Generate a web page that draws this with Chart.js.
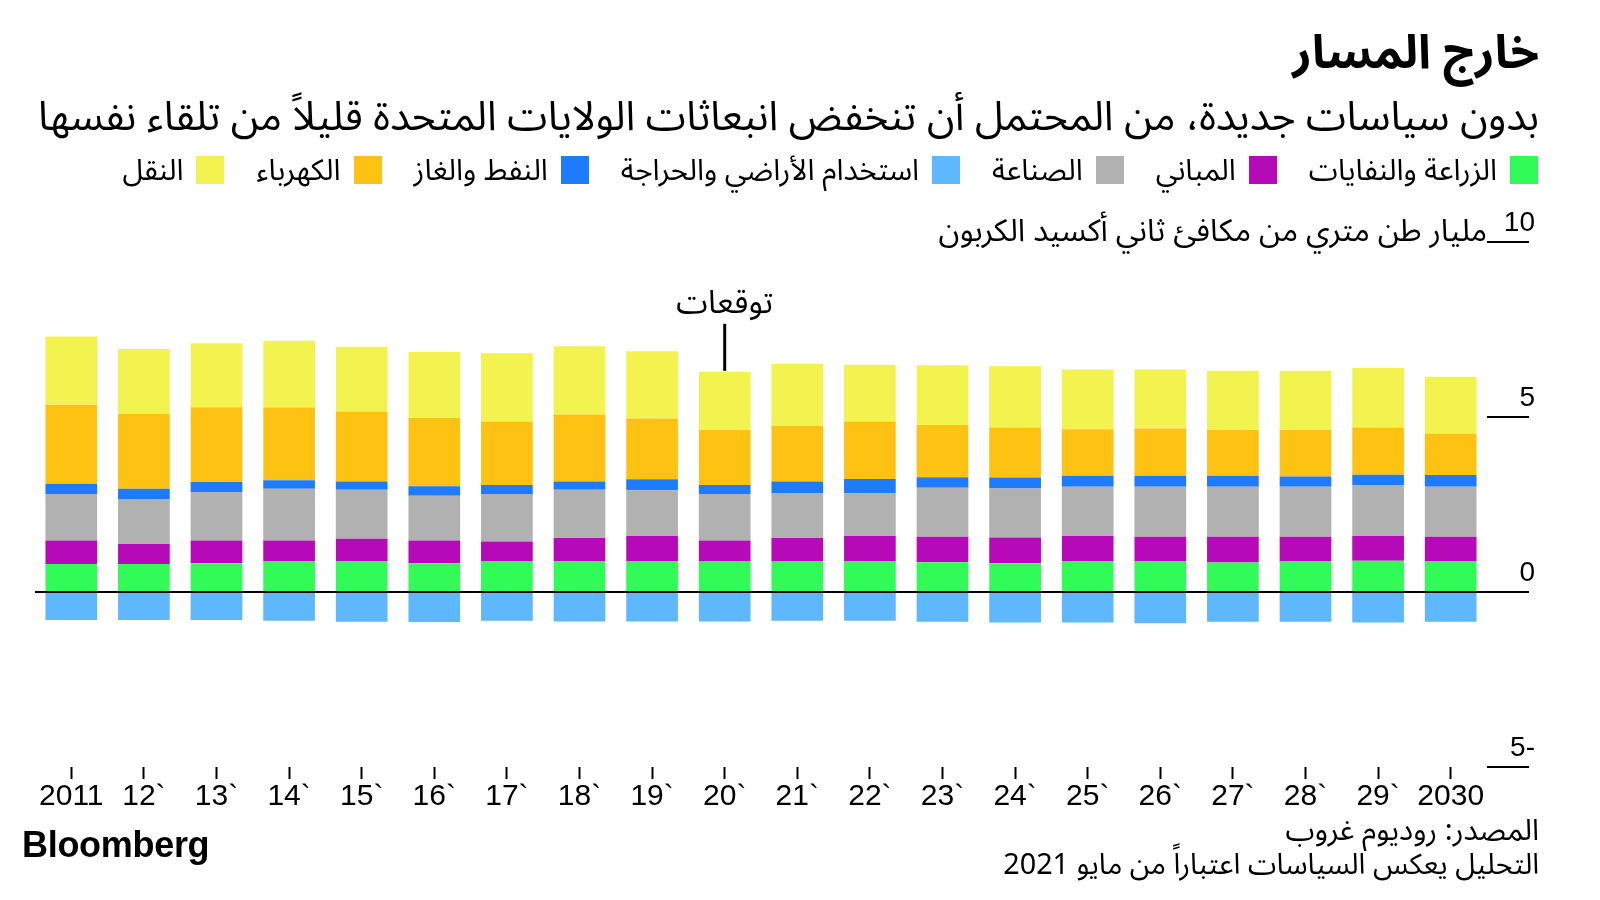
<!DOCTYPE html>
<html lang="ar">
<head>
<meta charset="utf-8">
<script src="https://cdn.jsdelivr.net/npm/chart.js@4.4.0/dist/chart.umd.min.js"></script>
<style>
  html, body { margin: 0; padding: 0; background: #fff; }
  body { width: 1600px; height: 900px; position: relative; overflow: hidden; color: #000;
         font-family: "Noto Sans Arabic", "DejaVu Sans", sans-serif; }
  #chart { position: absolute; left: 0; top: 0; }
  .txt { position: absolute; direction: rtl; white-space: nowrap; }
  #title { right: 61px; top: 22px; font-size: 47px; line-height: 62px; font-weight: bold; }
  #subtitle { right: 61px; top: 91px; font-size: 40.8px; line-height: 52px; }
  #legend { right: 62px; top: 150px; height: 40px; display: flex; align-items: center; direction: rtl; }
  #legend .item { display: flex; align-items: center; margin-left: 32px; font-size: 29.5px; }
  #legend .box { width: 28px; height: 28px; margin-left: 13px; }
  #unit { right: 113px; top: 210px; font-size: 31px; line-height: 42px; }
  #source { right: 61px; top: 813px; font-size: 29.5px; line-height: 36px; }
  #note { right: 61px; top: 847px; font-size: 28.8px; line-height: 36px; }
  #logo { position: absolute; left: 22px; top: 825px; font-family: "Liberation Sans", Arial, sans-serif;
          font-weight: bold; font-size: 36px; line-height: 40px; letter-spacing: -0.3px; }
</style>
</head>
<body>
<canvas id="chart" width="1600" height="900"></canvas>
<div class="txt" id="title">خارج المسار</div>
<div class="txt" id="subtitle">بدون سياسات جديدة، من المحتمل أن تنخفض انبعاثات الولايات المتحدة قليلاً من تلقاء نفسها</div>
<div class="txt" id="legend"></div>
<div class="txt" id="unit">مليار طن متري من مكافئ ثاني أكسيد الكربون</div>
<div class="txt" id="source">المصدر: روديوم غروب</div>
<div class="txt" id="note">التحليل يعكس السياسات اعتباراً من مايو 2021</div>
<div id="logo">Bloomberg</div>
<script>
// categories
const years = ['2011', '12`', '13`', '14`', '15`', '16`', '17`', '18`', '19`', '20`',
               '21`', '22`', '23`', '24`', '25`', '26`', '27`', '28`', '29`', '2030'];
const yTicks = [-5, 0, 5, 10];
const forecastLabel = 'توقعات';
const forecastYear = '20`';

// series, billion metric tons CO2e
const agriWaste   = [0.80, 0.80, 0.82, 0.87, 0.87, 0.82, 0.87, 0.87, 0.87, 0.87, 0.87, 0.87, 0.85, 0.82, 0.87, 0.87, 0.84, 0.87, 0.89, 0.87];
const buildings   = [0.67, 0.57, 0.65, 0.60, 0.65, 0.65, 0.57, 0.67, 0.73, 0.60, 0.67, 0.73, 0.73, 0.74, 0.73, 0.71, 0.74, 0.71, 0.71, 0.71];
const industry    = [1.33, 1.29, 1.39, 1.48, 1.40, 1.28, 1.36, 1.38, 1.31, 1.33, 1.29, 1.22, 1.40, 1.40, 1.41, 1.43, 1.43, 1.43, 1.44, 1.43];
const oilGas      = [0.29, 0.29, 0.28, 0.24, 0.24, 0.27, 0.26, 0.24, 0.31, 0.26, 0.33, 0.41, 0.30, 0.31, 0.31, 0.31, 0.31, 0.29, 0.31, 0.33];
const electricity = [2.26, 2.14, 2.14, 2.08, 2.00, 1.95, 1.81, 1.91, 1.74, 1.57, 1.59, 1.64, 1.49, 1.43, 1.33, 1.35, 1.31, 1.33, 1.35, 1.19];
const transport   = [1.95, 1.85, 1.83, 1.91, 1.85, 1.89, 1.95, 1.95, 1.92, 1.66, 1.77, 1.62, 1.71, 1.75, 1.71, 1.69, 1.69, 1.69, 1.70, 1.62];
const landUse     = [-0.80, -0.80, -0.80, -0.82, -0.85, -0.86, -0.82, -0.84, -0.84, -0.84, -0.82, -0.82, -0.85, -0.87, -0.87, -0.89, -0.85, -0.85, -0.87, -0.85];

const series = [
  { name: 'الزراعة والنفايات', data: agriWaste, color: '#31fb56' },
  { name: 'المباني', data: buildings, color: '#b60ab9' },
  { name: 'الصناعة', data: industry, color: '#b1b1b1' },
  { name: 'النفط والغاز', data: oilGas, color: '#1e7bfc' },
  { name: 'الكهرباء', data: electricity, color: '#fec312' },
  { name: 'النقل', data: transport, color: '#f3f34f' },
  { name: 'استخدام الأراضي والحراجة', data: landUse, color: '#5fb8fd' }
];
// legend reads right to left in this order
const legendOrder = [0, 1, 2, 6, 3, 4, 5];

const legendEl = document.getElementById('legend');
legendOrder.forEach(i => {
  const s = series[i];
  const item = document.createElement('div');
  item.className = 'item';
  item.innerHTML = '<span class="box" style="background:' + s.color + '"></span><span>' + s.name + '</span>';
  legendEl.appendChild(item);
});

const numFont = '"Liberation Sans Narrow", "Liberation Sans", Arial, sans-serif';

const forecastNote = {
  id: 'forecastNote',
  afterDatasetsDraw(chart) {
    const idx = years.indexOf(forecastYear);
    const bar = chart.getDatasetMeta(5).data[idx];
    const c = chart.ctx;
    c.save();
    c.strokeStyle = '#000';
    c.lineWidth = 3;
    c.beginPath();
    c.moveTo(bar.x, bar.y - 1);
    c.lineTo(bar.x, bar.y - 48);
    c.stroke();
    c.font = '32px "Noto Sans Arabic", "DejaVu Sans", sans-serif';
    c.fillStyle = '#000';
    c.textAlign = 'center';
    c.textBaseline = 'middle';
    c.fillText(forecastLabel, bar.x, bar.y - 64);
    c.restore();
  }
};

new Chart(document.getElementById('chart'), {
  type: 'bar',
  data: {
    labels: years,
    datasets: series.map(s => ({
      label: s.name,
      data: s.data,
      backgroundColor: s.color,
      borderWidth: 0,
      barPercentage: 0.712,
      categoryPercentage: 1
    }))
  },
  options: {
    responsive: false,
    animation: false,
    layout: { padding: { left: 35, right: 65, top: 242, bottom: 73 } },
    plugins: { legend: { display: false }, tooltip: { enabled: false } },
    scales: {
      x: {
        stacked: true,
        grid: { offset: false, drawOnChartArea: false, drawTicks: true, tickLength: 12, tickColor: '#000', tickWidth: 2 },
        border: { display: false },
        ticks: { color: '#000', font: { family: numFont, size: 30 }, padding: 0, maxRotation: 0, autoSkip: false },
        afterFit: s => { s.height = 60; }
      },
      y: {
        stacked: true,
        position: 'right',
        min: -5,
        max: 10,
        afterBuildTicks: s => { s.ticks = yTicks.map(v => ({ value: v })); },
        grid: {
          color: c => (c.tick && c.tick.value === 0) ? '#000' : 'rgba(0,0,0,0)',
          lineWidth: 2,
          tickLength: 42,
          tickColor: '#000',
          tickWidth: 2
        },
        border: { display: false },
        ticks: {
          crossAlign: 'far',
          padding: -23,
          labelOffset: -19,
          color: '#000',
          font: { family: numFont, size: 28 },
          callback: v => v < 0 ? Math.abs(v) + '-' : String(v)
        },
        afterFit: s => { s.width = 48; }
      }
    }
  },
  plugins: [forecastNote]
});
</script>
</body>
</html>
